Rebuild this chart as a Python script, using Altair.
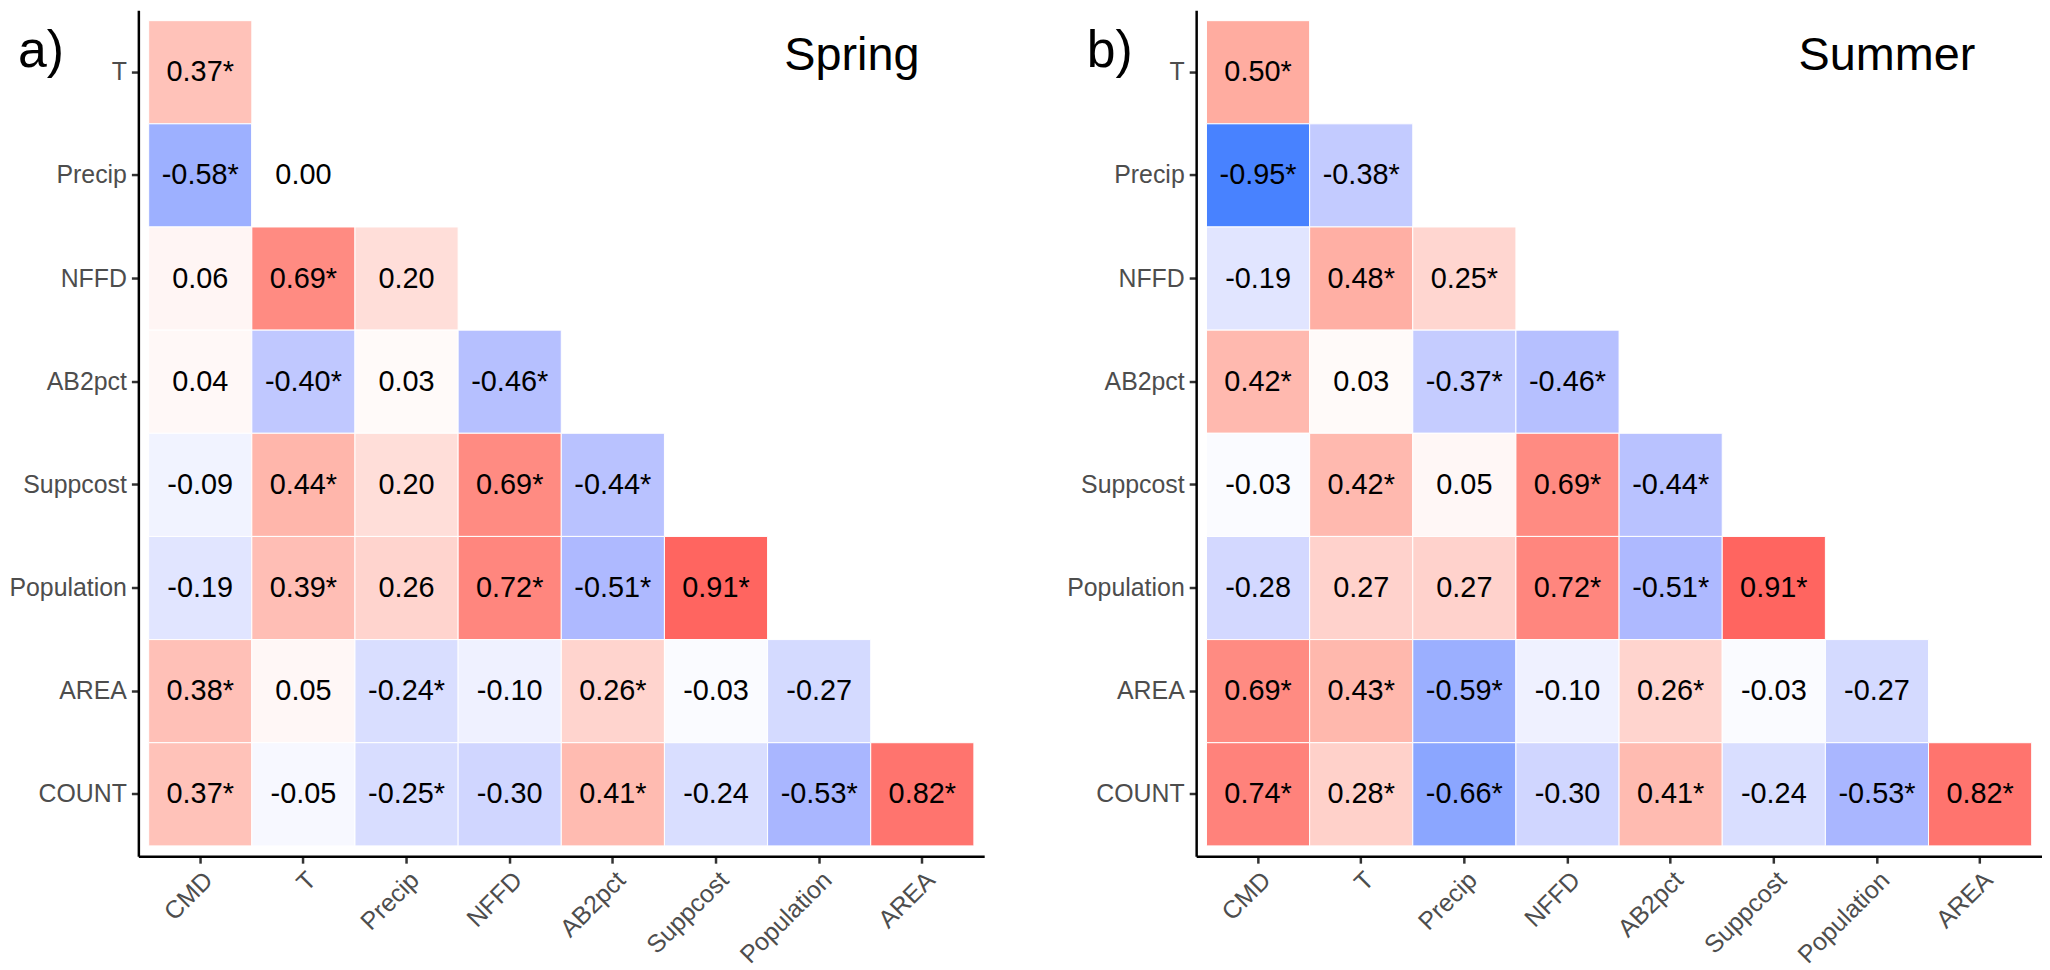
import altair as alt
import pandas as pd

cols = ["CMD", "T", "Precip", "NFFD", "AB2pct", "Suppcost", "Population", "AREA"]
rows = ["T", "Precip", "NFFD", "AB2pct", "Suppcost", "Population", "AREA", "COUNT"]

spring_vals = [
    [0.37],
    [-0.58, 0.00],
    [0.06, 0.69, 0.20],
    [0.04, -0.40, 0.03, -0.46],
    [-0.09, 0.44, 0.20, 0.69, -0.44],
    [-0.19, 0.39, 0.26, 0.72, -0.51, 0.91],
    [0.38, 0.05, -0.24, -0.10, 0.26, -0.03, -0.27],
    [0.37, -0.05, -0.25, -0.30, 0.41, -0.24, -0.53, 0.82],
]
spring_sig = [
    [1],
    [1, 0],
    [0, 1, 0],
    [0, 1, 0, 1],
    [0, 1, 0, 1, 1],
    [0, 1, 0, 1, 1, 1],
    [1, 0, 1, 0, 1, 0, 0],
    [1, 0, 1, 0, 1, 0, 1, 1],
]
summer_vals = [
    [0.50],
    [-0.95, -0.38],
    [-0.19, 0.48, 0.25],
    [0.42, 0.03, -0.37, -0.46],
    [-0.03, 0.42, 0.05, 0.69, -0.44],
    [-0.28, 0.27, 0.27, 0.72, -0.51, 0.91],
    [0.69, 0.43, -0.59, -0.10, 0.26, -0.03, -0.27],
    [0.74, 0.28, -0.66, -0.30, 0.41, -0.24, -0.53, 0.82],
]
summer_sig = [
    [1],
    [1, 1],
    [0, 1, 1],
    [1, 0, 1, 1],
    [0, 1, 0, 1, 1],
    [0, 0, 0, 1, 1, 1],
    [1, 1, 1, 0, 1, 0, 0],
    [1, 1, 1, 0, 1, 0, 1, 1],
]

FONT = "Liberation Sans"


def build(vals, sig):
    recs = []
    for i, r in enumerate(rows):
        for j, v in enumerate(vals[i]):
            lab = f"{v:.2f}" + ("*" if sig[i][j] else "")
            recs.append({"row": r, "col": cols[j], "value": v, "label": lab})
    return pd.DataFrame(recs)


color_scale = alt.Scale(
    domain=[-1, -0.5, 0, 0.5, 1],
    range=["#3C7CFF", "#B0BAFF", "#FFFFFF", "#FFACA0", "#FF5552"],
    interpolate="rgb",
)


def panel(vals, sig, season, tag, tag_x, title_x):
    df = build(vals, sig)
    xs = alt.X("col:N", sort=cols, title=None,
               scale=alt.Scale(domain=cols, paddingInner=0, paddingOuter=0.1),
               axis=alt.Axis(labelAngle=-45, labelAlign="right", labelBaseline="top",
                             bandPosition=0.5, labelPadding=4))
    ys = alt.Y("row:N", sort=rows, title=None,
               scale=alt.Scale(domain=rows, paddingInner=0, paddingOuter=0.1),
               axis=alt.Axis(bandPosition=0.5, labelPadding=5))
    base = alt.Chart(df)
    rect = base.mark_rect(stroke="white", strokeWidth=1).encode(
        x=xs, y=ys,
        color=alt.Color("value:Q", scale=color_scale, legend=None),
    )
    txt = base.mark_text(font=FONT, fontSize=29, color="black").encode(
        x=xs, y=ys, text="label:N"
    )
    ttl = alt.Chart(pd.DataFrame({"t": [season]})).mark_text(
        font=FONT, fontSize=47, color="black", align="right", baseline="alphabetic"
    ).encode(x=alt.value(title_x), y=alt.value(60), text="t:N")
    tg = alt.Chart(pd.DataFrame({"t": [tag]})).mark_text(
        font=FONT, fontSize=52, color="black", align="left", baseline="alphabetic"
    ).encode(x=alt.value(tag_x), y=alt.value(57), text="t:N")
    return alt.layer(rect, txt, ttl, tg).properties(width=850, height=850)


a = panel(spring_vals, spring_sig, "Spring", "a)", -121, 785)
b = panel(summer_vals, summer_sig, "Summer", "b)", -110, 783)

chart = alt.hconcat(a, b, spacing=82).properties(padding=0).configure_view(
    stroke=None
).configure_axis(
    grid=False,
    domainColor="black",
    domainWidth=2.5,
    tickColor="#333333",
    tickWidth=2.5,
    tickSize=7,
    labelFont=FONT,
    labelFontSize=25,
    labelColor="#4D4D4D",
)

chart.save("out.html", embed_options={"renderer": "svg", "actions": False})
